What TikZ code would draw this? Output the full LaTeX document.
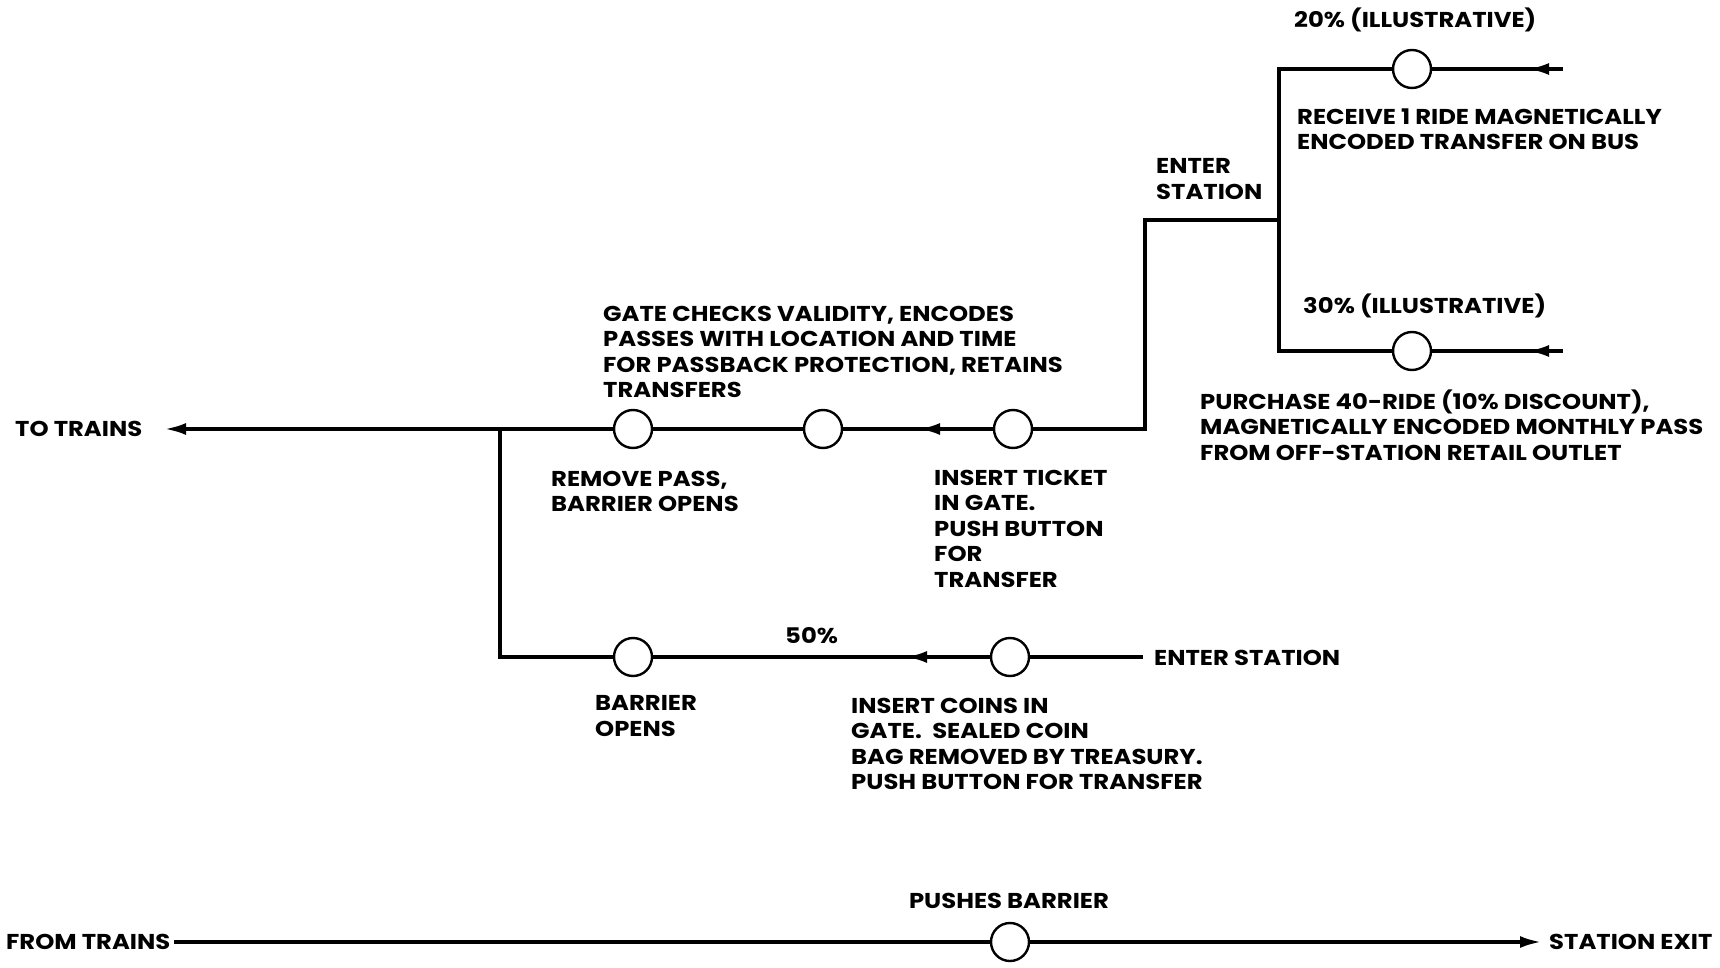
\documentclass[tikz,border=0pt]{standalone}
\usepackage{fontspec}
\setmainfont{Poppins}[FakeStretch=1.13]
\usetikzlibrary{arrows.meta}
\begin{document}
\begin{tikzpicture}[x=1pt,y=-1pt,
  flow/.style={line width=3.2pt},
  arr/.style={line width=3.2pt,-{Latex[length=21pt,width=12pt]}},
  stn/.style={circle,draw,line width=2.4pt,minimum size=38pt,inner sep=0pt,fill=white},
  lbl/.style={font=\fontsize{21.5}{25.5}\selectfont\bfseries,inner sep=0pt,align=left},
]
\useasboundingbox (0,0) rectangle (1720,968);
% coordinates
\coordinate (toT) at (165,429);
\coordinate (J) at (500,429);
\coordinate (Jb) at (500,657);
\coordinate (a1) at (919,429);
\coordinate (k1) at (1145,429);
\coordinate (k2) at (1145,220);
\coordinate (k3) at (1279,220);
\coordinate (k4) at (1279,69);
\coordinate (k5) at (1279,351);
\coordinate (e1) at (1563,69);
\coordinate (t1) at (1528,69);
\coordinate (e2) at (1563,351);
\coordinate (t2) at (1528,351);
\coordinate (a2) at (906,657);
\coordinate (e3) at (1143,657);
\coordinate (f0) at (174,942);
\coordinate (f1) at (1541,942);
% lines (stations drawn on top)
\draw[flow] (e1) -- (k4) -- (k5) -- (e2);
\draw[flow] (k3) -- (k2) -- (k1) -- (J);
\draw[arr] (J) -- (toT);
\draw[flow] (e3) -- (Jb) -- (J);
\draw[flow] (f0) -- (1010,942);
\draw[arr] (1010,942) -- (f1);
% mid-line arrows
\draw[arr] (e1) -- (t1);
\draw[arr] (e2) -- (t2);
\draw[arr] (1013,429) -- (a1);
\draw[arr] (1010,657) -- (a2);
% stations
\node[stn] (c1) at (633,429) {};
\node[stn] (c2) at (823,429) {};
\node[stn] (c3) at (1013,429) {};
\node[stn] (ctop) at (1412,69) {};
\node[stn] (cmid) at (1412,351) {};
\node[stn] (c4) at (633,657) {};
\node[stn] (c5) at (1010,657) {};
\node[stn] (c6) at (1010,942) {};
% labels
\node[lbl,anchor=west] (tt) at (15,429) {TO TRAINS};
\node[lbl,anchor=west] at (1294,20) {20\% (ILLUSTRATIVE)};
\node[lbl,anchor=north west] at (1297,108.5) {RECEIVE 1 RIDE MAGNETICALLY\\ENCODED TRANSFER ON BUS};
\node[lbl,anchor=north west] at (1156,158.5) {ENTER\\STATION};
\node[lbl,anchor=west] at (1303,306) {30\% (ILLUSTRATIVE)};
\node[lbl,anchor=north west] at (1200,389.5) {PURCHASE 40-RIDE (10\% DISCOUNT),\\MAGNETICALLY ENCODED MONTHLY PASS\\FROM OFF-STATION RETAIL OUTLET};
\node[lbl,anchor=north west] at (603,305.5) {GATE CHECKS VALIDITY, ENCODES\\PASSES WITH LOCATION AND TIME\\FOR PASSBACK PROTECTION, RETAINS\\TRANSFERS};
\node[lbl,anchor=north west] at (551,470.5) {REMOVE PASS,\\BARRIER OPENS};
\node[lbl,anchor=north west] at (934,469.5) {INSERT TICKET\\IN GATE.\\PUSH BUTTON\\FOR\\TRANSFER};
\node[lbl,anchor=west] at (785,636) {50\%};
\node[lbl,anchor=west] (es) at (1154,658) {ENTER STATION};
\node[lbl,anchor=north west] at (595,695.5) {BARRIER\\OPENS};
\node[lbl,anchor=north west] at (851,697.5) {INSERT COINS IN\\GATE.\ \ SEALED COIN\\BAG REMOVED BY TREASURY.\\PUSH BUTTON FOR TRANSFER};
\node[lbl] at (1009,901) {PUSHES BARRIER};
\node[lbl,anchor=west] (ft) at (6,942) {FROM TRAINS};
\node[lbl,anchor=west] (sx) at (1549,942) {STATION EXIT};
\end{tikzpicture}
\end{document}
